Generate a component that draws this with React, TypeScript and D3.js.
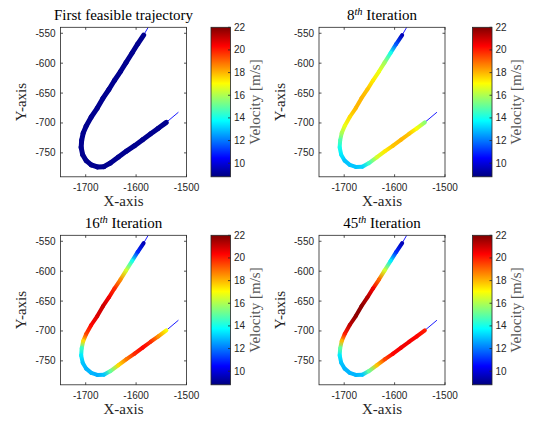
import React from 'react';
import * as d3 from 'd3';

// Trajectory samples (data coordinates)
const pathX = [-1585, -1597, -1608, -1620, -1631, -1643, -1654, -1666, -1677, -1689, -1699, -1705, -1708, -1709, -1706, -1699, -1689, -1677, -1664, -1651, -1635, -1619, -1603, -1587, -1571, -1556, -1540];
const pathY = [-553, -568, -583, -599, -614, -629, -644, -659, -675, -690, -705, -717, -729, -741, -753, -763, -770, -773.5, -773, -767, -757, -747, -738, -728, -718, -709, -699];
// Thin reference line ends
const refStartX = -1576, refStartY = -540;
const refEndX = -1516, refEndY = -682;

// Velocities along the trajectory per iteration
const velFirst = [9.0, 9.0, 9.0, 9.0, 9.0, 9.0, 9.0, 9.0, 9.0, 9.0, 9.0, 9.0, 9.0, 9.0, 9.0, 9.0, 9.0, 9.0, 9.0, 9.0, 9.0, 9.0, 9.0, 9.0, 9.0, 9.0, 9.0];
const vel8 = [9.5, 11.5, 14, 15.8, 16.8, 17.3, 17.8, 18, 18, 17.5, 16.8, 16, 14.8, 14, 13.5, 13, 13, 13, 13.2, 14.5, 16.5, 17.3, 17.8, 18, 17.8, 17, 15.5];
const vel16 = [9.5, 11, 14, 16.5, 18.5, 19.8, 20.5, 21, 20.8, 20.3, 19.5, 17.5, 14.5, 13.5, 13, 12.8, 12.8, 12.7, 13, 15, 17.5, 18.8, 19.8, 20.3, 19.8, 18.5, 17];
const vel45 = [9.5, 11, 13.5, 16.5, 19, 20.5, 21.3, 21.8, 21.8, 21.2, 20, 18, 15, 13.5, 13, 12.8, 12.8, 12.8, 13, 15, 17.8, 19.5, 20.3, 20.5, 20.5, 20.3, 20];

const titleMain = ['First feasible trajectory', '', '', ''];
const titleNum = ['', '8', '16', '45'];
const titleSup = ['', 'th', 'th', 'th'];
const titleRest = ['', ' Iteration', ' Iteration', ' Iteration'];

const xTicks = [-1700, -1600, -1500];
const yTicks = [-550, -600, -650, -700, -750];
const cbTicks = [10, 12, 14, 16, 18, 20, 22];
const xDomain = [-1750, -1500];
const yDomain = [-790, -540];
const vDomain = [8.8, 22];

const xLabel = 'X-axis';
const yLabel = 'Y-axis';
const cbLabel = 'Velocity [m/s]';

function jet(t: number): string {
  const c = (v: number) => Math.max(0, Math.min(1, v));
  const r = c(1.5 - Math.abs(4 * t - 3));
  const g = c(1.5 - Math.abs(4 * t - 2));
  const b = c(1.5 - Math.abs(4 * t - 1));
  return d3.rgb(r * 255, g * 255, b * 255).formatHex();
}
const vNorm = d3.scaleLinear().domain(vDomain).range([0, 1]).clamp(true);
const vColor = (v: number) => jet(vNorm(v));

const layouts = [
  { ax: 60.5, ay: 27.3, cbx: 211, lw: 5 },
  { ax: 319, ay: 27.3, cbx: 472.5, lw: 4 },
  { ax: 60.5, ay: 235.3, cbx: 211, lw: 4 },
  { ax: 319, ay: 235.3, cbx: 472.5, lw: 4 },
];
const velocities = [velFirst, vel8, vel16, vel45];
const AW = 126, AH = 149.5, CBW = 19.5;

const axisColor = '#262626';
const serif = '"Liberation Serif", "Times New Roman", serif';
const sans = '"Liberation Sans", Arial, sans-serif';

function Panel({ idx }: { idx: number }) {
  const L = layouts[idx];
  const vel = velocities[idx];
  const x = d3.scaleLinear().domain(xDomain).range([L.ax, L.ax + AW]);
  const y = d3.scaleLinear().domain(yDomain).range([L.ay + AH, L.ay]);
  const cy = d3.scaleLinear().domain(vDomain).range([L.ay + AH, L.ay]);
  const refLine = d3.line<[number, number]>().x(d => x(d[0])).y(d => y(d[1]));
  const refPts: [number, number][] = [[refStartX, refStartY], ...pathX.map((px, i) => [px, pathY[i]] as [number, number]), [refEndX, refEndY]];
  const stops = d3.range(0, 65).map(i => i / 64);
  const tk = 2.5;
  const clipId = `clip${idx}`;
  const cbGrad = `cbg${idx}`;
  const cx = L.ax + AW / 2;
  return (
    <g>
      <defs>
        <clipPath id={clipId}><rect x={L.ax} y={L.ay} width={AW} height={AH} /></clipPath>
        <linearGradient id={cbGrad} x1="0" y1="1" x2="0" y2="0">
          {stops.map((s, i) => <stop key={i} offset={s} stopColor={jet(s)} />)}
        </linearGradient>
        {pathX.slice(0, -1).map((px, i) => (
          <linearGradient key={i} id={`seg${idx}_${i}`} gradientUnits="userSpaceOnUse"
            x1={x(px)} y1={y(pathY[i])} x2={x(pathX[i + 1])} y2={y(pathY[i + 1])}>
            <stop offset="0" stopColor={vColor(vel[i])} />
            <stop offset="1" stopColor={vColor(vel[i + 1])} />
          </linearGradient>
        ))}
      </defs>
      <rect x={L.ax} y={L.ay} width={AW} height={AH} fill="#fff" />
      <g clipPath={`url(#${clipId})`}>
        <path d={refLine(refPts) || ''} fill="none" stroke="#0000ff" strokeWidth={0.9} />
        {pathX.slice(0, -1).map((px, i) => (
          <line key={i} x1={x(px)} y1={y(pathY[i])} x2={x(pathX[i + 1])} y2={y(pathY[i + 1])}
            stroke={`url(#seg${idx}_${i})`} strokeWidth={L.lw} strokeLinecap="round" />
        ))}
      </g>
      {/* axes box and ticks */}
      <rect x={L.ax} y={L.ay} width={AW} height={AH} fill="none" stroke={axisColor} strokeWidth={0.8} />
      {xTicks.map(t => (
        <g key={t}>
          <line x1={x(t)} x2={x(t)} y1={L.ay + AH} y2={L.ay + AH - tk} stroke={axisColor} strokeWidth={0.8} />
          <line x1={x(t)} x2={x(t)} y1={L.ay} y2={L.ay + tk} stroke={axisColor} strokeWidth={0.8} />
          <text x={x(t)} y={L.ay + AH + 14.5} textAnchor="middle" fontFamily={sans} fontSize={10} fill={axisColor}>{t}</text>
        </g>
      ))}
      {yTicks.map(t => (
        <g key={t}>
          <line x1={L.ax} x2={L.ax + tk} y1={y(t)} y2={y(t)} stroke={axisColor} strokeWidth={0.8} />
          <line x1={L.ax + AW} x2={L.ax + AW - tk} y1={y(t)} y2={y(t)} stroke={axisColor} strokeWidth={0.8} />
          <text x={L.ax - 5} y={y(t) + 3.5} textAnchor="end" fontFamily={sans} fontSize={10} fill={axisColor}>{t}</text>
        </g>
      ))}
      {/* title */}
      <text x={cx} y={L.ay - 7.3} textAnchor="middle" fontFamily={serif} fontSize={15} fill="#000">
        {titleMain[idx] ? titleMain[idx] : (
          <>
            <tspan>{titleNum[idx]}</tspan>
            <tspan dy={-5} fontSize={10.5} fontStyle="italic">{titleSup[idx]}</tspan>
            <tspan dy={5}>{titleRest[idx]}</tspan>
          </>
        )}
      </text>
      <text x={cx} y={L.ay + AH + 29.5} textAnchor="middle" fontFamily={serif} fontSize={15} fill="#262626">{xLabel}</text>
      <text transform={`translate(${L.ax - 34.5},${L.ay + AH / 2}) rotate(-90)`} textAnchor="middle" fontFamily={serif} fontSize={15} fill="#262626">{yLabel}</text>
      {/* colorbar */}
      <rect x={L.cbx} y={L.ay} width={CBW} height={AH} fill={`url(#${cbGrad})`} stroke={axisColor} strokeWidth={0.8} />
      {cbTicks.map(t => (
        <g key={t}>
          <line x1={L.cbx + CBW} x2={L.cbx + CBW - tk} y1={cy(t)} y2={cy(t)} stroke={axisColor} strokeWidth={0.8} />
          <text x={L.cbx + CBW + 3.5} y={cy(t) + 3.5} textAnchor="start" fontFamily={sans} fontSize={10} fill={axisColor}>{t}</text>
        </g>
      ))}
      <text transform={`translate(${L.cbx + CBW + 29},${L.ay + AH / 2}) rotate(-90)`} textAnchor="middle" fontFamily={serif} fontSize={15} fill="#555">{cbLabel}</text>
    </g>
  );
}

export default function App() {
  return (
    <svg width={534} height={424} style={{ position: 'absolute', left: 0, top: 0, background: '#fff' }}>
      <rect width={534} height={424} fill="#fff" />
      {[0, 1, 2, 3].map(i => <Panel key={i} idx={i} />)}
    </svg>
  );
}
